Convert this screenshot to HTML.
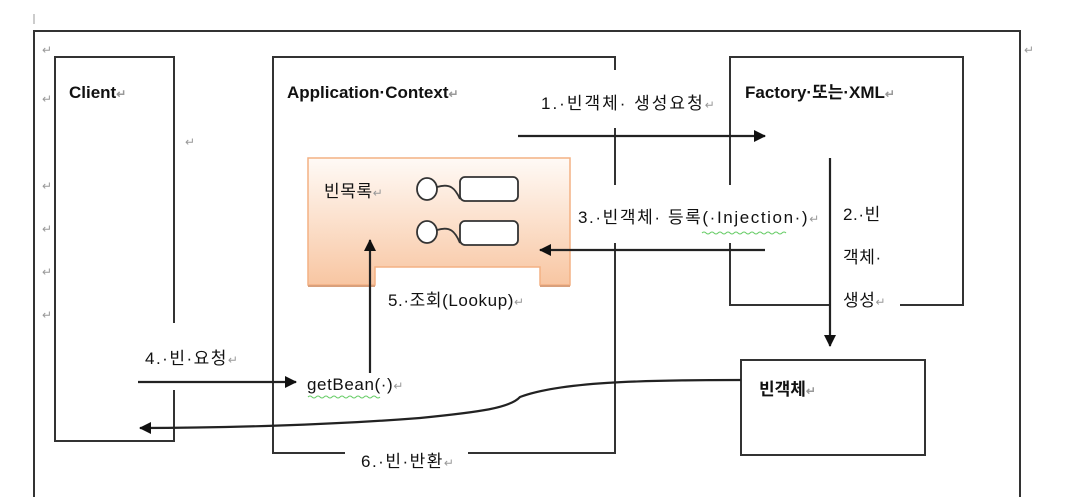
<!DOCTYPE html>
<html><head><meta charset="utf-8"><style>
html,body{margin:0;padding:0;background:#fff;width:1068px;height:497px;overflow:hidden}
svg text{font-family:"Liberation Sans","Noto Sans CJK KR",sans-serif;fill:#111}
.t{font-size:17px;letter-spacing:0.6px}
.b{font-size:17px;font-weight:bold}
.r{font-size:12px;fill:#999;letter-spacing:0}
</style></head><body>
<svg width="1068" height="497" viewBox="0 0 1068 497" xmlns="http://www.w3.org/2000/svg">
<defs>
<linearGradient id="g" x1="0" y1="0" x2="0" y2="1">
<stop offset="0" stop-color="#fffaf6"/><stop offset="1" stop-color="#f8c6a2"/>
</linearGradient>
<marker id="a" markerWidth="12" markerHeight="12" refX="11" refY="6" orient="auto" markerUnits="userSpaceOnUse"><path d="M0,0 L12,6 L0,12 z" fill="#111"/></marker>
</defs>
<g stroke="#333" stroke-width="2" fill="none">
<path d="M34,497 V31 H1020 V497"/>
<line x1="34" y1="14" x2="34" y2="24" stroke="#999" stroke-width="1"/>
<path d="M174,323 V57 H55 V441 H174 V390"/>
<path d="M345,453 H273 V57 H615 V70"/>
<path d="M615,128 V185"/>
<path d="M615,243 V453 H468"/>
<path d="M730,185 V57 H963 V305 H900"/>
<path d="M730,243 V305 H830"/>
<rect x="741" y="360" width="184" height="95"/>
</g>
<path d="M308,158 H570 V285 H540 V267 H375 V285 H308 Z" fill="url(#g)" stroke="#f4b183" stroke-width="1.5"/>
<line x1="308" y1="286" x2="375" y2="286" stroke="#d9a07c" stroke-width="2"/>
<line x1="540" y1="286" x2="570" y2="286" stroke="#d9a07c" stroke-width="2"/>
<g stroke="#333" stroke-width="1.8" fill="#fff">
<ellipse cx="427" cy="189" rx="10" ry="11"/>
<rect x="460" y="177" width="58" height="24" rx="5"/>
<ellipse cx="427" cy="232" rx="10" ry="11"/>
<rect x="460" y="221" width="58" height="24" rx="5"/>
<path d="M437,187 C450,183 455,188 460,199" fill="none"/>
<path d="M437,230 C450,226 455,231 460,243" fill="none"/>
</g>
<g stroke="#222" stroke-width="2.2" fill="none" marker-end="url(#a)">
<line x1="518" y1="136" x2="765" y2="136"/>
<line x1="765" y1="250" x2="540" y2="250"/>
<line x1="830" y1="158" x2="830" y2="346"/>
<line x1="370" y1="373" x2="370" y2="240"/>
<line x1="138" y1="382" x2="296" y2="382"/>
<path d="M741,380 C640,380 560,382 520,397 C510,408 480,412 420,418 C330,425 220,428 140,428"/>
</g>
<text class="b" x="69" y="98">Client<tspan class="r">↵</tspan></text>
<text class="b" x="287" y="98">Application·Context<tspan class="r">↵</tspan></text>
<text class="b" x="745" y="98">Factory·또는·XML<tspan class="r">↵</tspan></text>
<text class="t" x="541" y="109" style="letter-spacing:2px">1.·빈객체· 생성요청<tspan class="r">↵</tspan></text>
<text class="t" x="578" y="223" style="letter-spacing:1.6px">3.·빈객체· 등록(·Injection·)<tspan class="r">↵</tspan></text>
<path d="M702,233 q2,-2 4,0 t4,0 t4,0 t4,0 t4,0 t4,0 t4,0 t4,0 t4,0 t4,0 t4,0 t4,0 t4,0 t4,0 t4,0 t4,0 t4,0 t4,0 t4,0 t4,0 t4,0" stroke="#6c6" fill="none" stroke-width="1"/>
<text class="t" x="843" y="220">2.·빈</text>
<text class="t" x="843" y="263">객체·</text>
<text class="t" x="843" y="306">생성<tspan class="r">↵</tspan></text>
<text class="t" x="324" y="197">빈목록<tspan class="r">↵</tspan></text>
<text class="t" x="388" y="306">5.·조회(Lookup)<tspan class="r">↵</tspan></text>
<text class="t" x="145" y="364" style="letter-spacing:1.5px">4.·빈·요청<tspan class="r">↵</tspan></text>
<text class="t" x="307" y="390">getBean(·)<tspan class="r">↵</tspan></text>
<path d="M308,397 q2,-2 4,0 t4,0 t4,0 t4,0 t4,0 t4,0 t4,0 t4,0 t4,0 t4,0 t4,0 t4,0 t4,0 t4,0 t4,0 t4,0 t4,0 t4,0" stroke="#6c6" fill="none" stroke-width="1"/>
<text class="t" x="361" y="467" style="letter-spacing:1.5px">6.·빈·반환<tspan class="r">↵</tspan></text>
<text class="b" x="759" y="395">빈객체<tspan class="r">↵</tspan></text>
<text class="r" x="42" y="54">↵</text>
<text class="r" x="42" y="103">↵</text>
<text class="r" x="42" y="190">↵</text>
<text class="r" x="42" y="233">↵</text>
<text class="r" x="42" y="276">↵</text>
<text class="r" x="42" y="319">↵</text>
<text class="r" x="185" y="146">↵</text>
<text class="r" x="1024" y="54">↵</text>
</svg>
</body></html>
